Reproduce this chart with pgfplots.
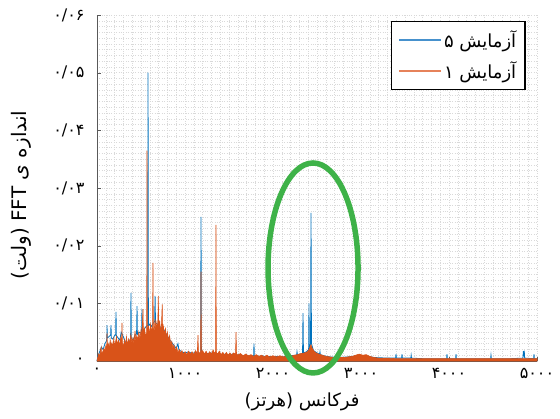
\documentclass[border=0pt]{standalone}
\usepackage{pgfplots}
\pgfplotsset{compat=1.18}
\usepackage{fontspec}
\setmainfont{DejaVu Sans}
\newfontfamily\fa[Script=Arabic]{DejaVu Sans}
\TeXXeTstate=1

\definecolor{mblue}{rgb}{0,0.447,0.741}
\definecolor{morange}{rgb}{0.85,0.325,0.098}
\definecolor{legblue}{RGB}{70,145,205}
\definecolor{legorange}{RGB}{230,130,90}
\definecolor{ringgreen}{RGB}{62,178,72}

% orange run (filled), Hz / volt
\pgfplotstableread{
f v
0 0
8 0.0006
20 0.0012
30 0.0008
40 0.0018
48 0.0024
52 0.0010
65 0.0016
80 0.0022
88 0.0014
100 0.0026
110 0.0020
114 0.0048
118 0.0024
128 0.0030
140 0.0022
150 0.0036
158 0.0026
170 0.0032
180 0.0022
190 0.0038
200 0.0026
212 0.0034
222 0.0042
230 0.0028
245 0.0036
255 0.0026
270 0.0040
280 0.0030
284 0.0066
288 0.0032
300 0.0024
312 0.0036
322 0.0026
335 0.0042
345 0.0028
360 0.0038
372 0.0030
385 0.0046
395 0.0032
410 0.0040
420 0.0030
432 0.0052
440 0.0034
452 0.0044
465 0.0036
475 0.0050
488 0.0038
500 0.0054
510 0.0040
523 0.0090
527 0.0044
540 0.0056
552 0.0042
565 0.0050
568 0.0365
571 0.0048
585 0.0060
595 0.0046
610 0.0064
620 0.0050
632 0.0060
636 0.0170
640 0.0058
650 0.0052
660 0.0072
670 0.0054
680 0.0066
690 0.0050
697 0.0113
701 0.0056
712 0.0070
722 0.0050
733 0.0062
741 0.0098
745 0.0050
755 0.0060
765 0.0046
778 0.0056
790 0.0040
800 0.0050
812 0.0036
825 0.0044
838 0.0028
850 0.0034
862 0.0022
875 0.0028
890 0.0018
905 0.0024
920 0.0014
935 0.0020
950 0.0013
965 0.0018
980 0.0012
1000 0.0016
1020 0.0011
1040 0.0017
1060 0.0012
1080 0.0016
1100 0.0011
1120 0.0018
1140 0.0013
1148 0.0045
1152 0.0016
1170 0.0013
1178 0.0017
1182 0.0155
1186 0.0014
1200 0.0018
1220 0.0012
1240 0.0017
1260 0.0011
1280 0.0016
1300 0.0012
1320 0.0019
1335 0.0013
1348 0.0017
1352 0.0236
1356 0.0015
1370 0.0012
1390 0.0017
1410 0.0011
1430 0.0015
1450 0.0010
1470 0.0015
1490 0.0010
1510 0.0014
1530 0.0010
1550 0.0014
1575 0.0012
1580 0.0050
1585 0.0013
1600 0.0010
1630 0.0013
1660 0.0009
1690 0.0012
1720 0.0009
1750 0.0011
1780 0.0008
1810 0.0011
1840 0.0008
1870 0.0010
1900 0.0007
1930 0.0010
1960 0.0007
2000 0.0009
2040 0.0007
2080 0.0009
2120 0.0007
2160 0.0009
2200 0.0008
2240 0.0010
2280 0.0011
2320 0.0013
2360 0.0014
2390 0.0016
2410 0.0020
2425 0.0026
2432 0.0028
2440 0.0024
2460 0.0018
2490 0.0014
2520 0.0012
2560 0.0010
2600 0.0008
2650 0.0007
2700 0.0006
2750 0.0006
2800 0.0006
2850 0.0007
2900 0.0008
2940 0.0010
2980 0.0012
3020 0.0010
3060 0.0011
3100 0.0008
3150 0.0006
3200 0.0005
3300 0.0005
3400 0.0004
3600 0.0004
3800 0.0004
4000 0.0004
4200 0.0004
4400 0.0004
4600 0.0004
4800 0.0004
5000 0.0004
}\runone

% blue run (line), Hz / volt
\pgfplotstableread{
f v
0 0
10 0.0008
30 0.0016
50 0.0024
70 0.0020
90 0.0030
108 0.0035
112 0.0040
114 0.0062
117 0.0040
135 0.0042
155 0.0045
159 0.0062
163 0.0040
180 0.0038
200 0.0044
212 0.0046
216 0.0085
220 0.0044
240 0.0040
260 0.0036
275 0.0050
300 0.0042
330 0.0030
350 0.0024
370 0.0034
382 0.0040
386 0.0118
390 0.0040
410 0.0036
430 0.0044
450 0.0048
455 0.0095
459 0.0046
480 0.0050
500 0.0048
507 0.0052
511 0.0090
515 0.0052
540 0.0056
560 0.0060
576 0.0062
580 0.0500
584 0.0060
600 0.0064
620 0.0060
640 0.0066
655 0.0068
660 0.0113
665 0.0066
690 0.0064
710 0.0060
730 0.0058
760 0.0054
790 0.0046
820 0.0038
850 0.0032
880 0.0026
900 0.0022
920 0.0030
930 0.0020
960 0.0016
1000 0.0014
1040 0.0016
1080 0.0013
1120 0.0015
1160 0.0012
1178 0.0014
1182 0.0250
1186 0.0014
1220 0.0012
1260 0.0013
1300 0.0014
1340 0.0012
1380 0.0013
1420 0.0011
1460 0.0012
1500 0.0010
1540 0.0012
1580 0.0010
1620 0.0011
1660 0.0009
1700 0.0010
1740 0.0008
1780 0.0009
1784 0.0030
1788 0.0009
1830 0.0008
1880 0.0009
1920 0.0007
1960 0.0008
2000 0.0007
2050 0.0008
2100 0.0007
2150 0.0008
2200 0.0009
2250 0.0010
2268 0.0010
2273 0.0016
2278 0.0011
2310 0.0012
2336 0.0013
2341 0.0083
2346 0.0014
2380 0.0016
2405 0.0020
2409 0.0100
2413 0.0022
2427 0.0030
2432 0.0257
2437 0.0030
2460 0.0018
2500 0.0014
2530 0.0012
2534 0.0016
2538 0.0011
2580 0.0009
2650 0.0007
2750 0.0006
2850 0.0007
2950 0.0009
3050 0.0009
3150 0.0006
3300 0.0005
3394 0.0005
3398 0.0012
3402 0.0005
3462 0.0005
3466 0.0012
3470 0.0005
3566 0.0005
3570 0.0010
3574 0.0005
3700 0.0004
3850 0.0004
3973 0.0004
3977 0.0012
3981 0.0004
4076 0.0004
4080 0.0012
4084 0.0004
4300 0.0004
4473 0.0004
4477 0.0010
4481 0.0004
4700 0.0004
4840 0.0005
4845 0.0017
4850 0.0008
4855 0.0018
4860 0.0005
4962 0.0004
4966 0.0012
4970 0.0004
5000 0.0004
}\runfive

\begin{document}
\begin{tikzpicture}
\useasboundingbox (-97pt,-58pt) rectangle (463pt,361pt);
\begin{axis}[
    scale only axis,
    width=440pt, height=346pt,
    xmin=0, xmax=5000,
    ymin=0, ymax=0.06,
    scaled y ticks=false, scaled x ticks=false,
    axis x line*=bottom, axis y line*=left,
    axis line style={gray!70!black, line width=0.8pt},
    xtick={0,1000,...,5000},
    xticklabels={۰,۱۰۰۰,۲۰۰۰,۳۰۰۰,۴۰۰۰,۵۰۰۰},
    ytick={0,0.01,...,0.06},
    yticklabels={۰,۰/۰۱,۰/۰۲,۰/۰۳,۰/۰۴,۰/۰۵,۰/۰۶},
    minor x tick num=9, minor y tick num=9,
    grid=both,
    major grid style={gray!30, dotted, line width=0.5pt},
    minor grid style={gray!30, dotted, line width=0.5pt},
    major tick length=4pt, minor tick length=0pt,
    tick style={gray!70!black},
    ticklabel style={font=\fa\fontsize{16}{18}\selectfont},
    xticklabel style={yshift=-4pt},
    yticklabel style={xshift=-9pt},
    xlabel={\fa\fontsize{18}{21}\selectfont\beginR فرکانس (هرتز)\endR},
    xlabel style={at={(axis description cs:0.466,0)}, yshift=-41pt, anchor=center},
    ylabel={\fa\fontsize{20}{24}\selectfont\beginR اندازه ی \beginL FFT\endL{} (ولت)\endR},
    ylabel style={at={(axis description cs:-0.173,0.48)}, anchor=center},
    legend image code/.code={\draw[#1] (0pt,0pt) -- (42pt,0pt);},
    legend style={at={(0.975,0.983)}, anchor=north east, draw=black,
        line width=1.5pt, font=\fa\fontsize{18}{21}\selectfont,
        inner xsep=7pt, inner ysep=7pt, row sep=9pt},
    legend cell align=left,
    clip=false,
]
\addplot[mblue, line width=0.8pt, forget plot] table[x=f, y=v] {\runfive};
\addplot[fill=morange, draw=morange, line width=0.6pt, forget plot] table[x=f, y=v] {\runone} \closedcycle;
\addlegendimage{draw=legblue, line width=1.8pt}
\addlegendentry{\beginR آزمایش ۵\endR}
\addlegendimage{draw=legorange, line width=1.8pt}
\addlegendentry{\beginR آزمایش ۱\endR}
\draw[ringgreen, line width=5.5pt] (axis cs:2455,0.01613) ellipse [x radius=45pt, y radius=105pt];
\end{axis}
\end{tikzpicture}
\end{document}
